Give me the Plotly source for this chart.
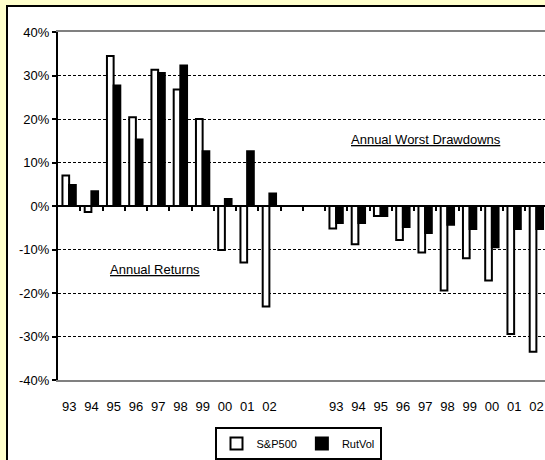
import plotly.graph_objects as go

years = ["93", "94", "95", "96", "97", "98", "99", "00", "01", "02"]
gap_labels = ["", ""]
labels = years + gap_labels + years

sp500_returns = [0.070, -0.014, 0.345, 0.204, 0.313, 0.268, 0.200, -0.101, -0.130, -0.231]
rutvol_returns = [0.048, 0.034, 0.277, 0.153, 0.306, 0.323, 0.126, 0.016, 0.126, 0.029]
sp500_drawdowns = [-0.052, -0.088, -0.023, -0.078, -0.107, -0.194, -0.120, -0.171, -0.294, -0.335]
rutvol_drawdowns = [-0.039, -0.039, -0.023, -0.048, -0.062, -0.043, -0.053, -0.095, -0.053, -0.053]

y_tick_vals = [-0.4, -0.3, -0.2, -0.1, 0.0, 0.1, 0.2, 0.3, 0.4]
y_tick_text = ["-40%", "-30%", "-20%", "-10%", "0%", "10%", "20%", "30%", "40%"]

gap = [None] * len(gap_labels)
sp500_all = sp500_returns + gap + sp500_drawdowns
rutvol_all = rutvol_returns + gap + rutvol_drawdowns
xpos = list(range(len(labels)))
boundaries = [i + 0.5 for i in range(len(labels) - 1)]

FONT = "Liberation Sans, Arial, sans-serif"
W, H = 545, 460
ML, MT, MB = 58, 32, 80
plot_w = W - ML
plot_h = H - MT - MB
cat_w = 22.25
xr = [-0.5, -0.5 + plot_w / cat_w]

def px_x(p):
    return (p - ML) / plot_w

def px_y(p):
    return (H - MB - p) / plot_h

fig = go.Figure()
fig.add_trace(go.Bar(name="S&P500", x=xpos, y=sp500_all,
                     marker=dict(color="white", line=dict(color="black", width=2))))
fig.add_trace(go.Bar(name="RutVol", x=xpos, y=rutvol_all,
                     marker=dict(color="black", line=dict(color="black", width=2))))
fig.add_trace(go.Scatter(x=[0], y=[None], xaxis="x2", showlegend=False,
                         hoverinfo="skip", mode="markers", marker=dict(opacity=0)))

fig.update_layout(
    width=W, height=H,
    margin=dict(l=ML, r=0, t=MT, b=MB, autoexpand=False),
    paper_bgcolor="#FFFFCC",
    plot_bgcolor="rgba(0,0,0,0)",
    font=dict(family=FONT, size=13, color="black"),
    barmode="group", bargap=0.40, bargroupgap=0,
    xaxis=dict(range=xr, tickvals=xpos, ticktext=labels, ticks="outside",
               ticklen=13, tickcolor="rgba(0,0,0,0)", showline=True,
               linecolor="#808080", linewidth=2, mirror=True,
               showgrid=False, zeroline=False, fixedrange=True),
    xaxis2=dict(range=xr, overlaying="x", anchor="free", position=0.5,
                side="bottom", tickvals=boundaries, ticks="outside", ticklen=4,
                tickwidth=1.5, tickcolor="black", showticklabels=False,
                showline=False, showgrid=False, zeroline=False),
    yaxis=dict(range=[-0.4, 0.4], tickvals=y_tick_vals, ticktext=y_tick_text,
               showline=True, linecolor="black", linewidth=2,
               ticks="outside", ticklen=4, tickwidth=2, tickcolor="black",
               showgrid=True, gridcolor="black", gridwidth=1, griddash="3px,2px",
               zeroline=True, zerolinecolor="black", zerolinewidth=2),
    legend=dict(orientation="h", x=px_x(298), xanchor="center", y=px_y(427),
                yanchor="top", bordercolor="black", borderwidth=2,
                bgcolor="white", font=dict(size=11), itemwidth=30,
                traceorder="normal"),
    showlegend=True,
    shapes=[dict(type="rect", xref="paper", yref="paper", layer="below",
                 x0=px_x(7), x1=px_x(W + 20), y0=px_y(H + 20), y1=px_y(6),
                 fillcolor="white", line=dict(color="black", width=2))],
    annotations=[
        dict(text="<u>Annual Worst Drawdowns</u>", x=16.05, y=0.152,
             xref="x", yref="y", showarrow=False, font=dict(size=13)),
        dict(text="<u>Annual Returns</u>", x=3.86, y=-0.145,
             xref="x", yref="y", showarrow=False, font=dict(size=13)),
    ],
)

fig.write_html(
    "out.html",
    config={"displayModeBar": False},
    post_script="document.body.style.margin='0';document.body.style.overflow='hidden';",
)
